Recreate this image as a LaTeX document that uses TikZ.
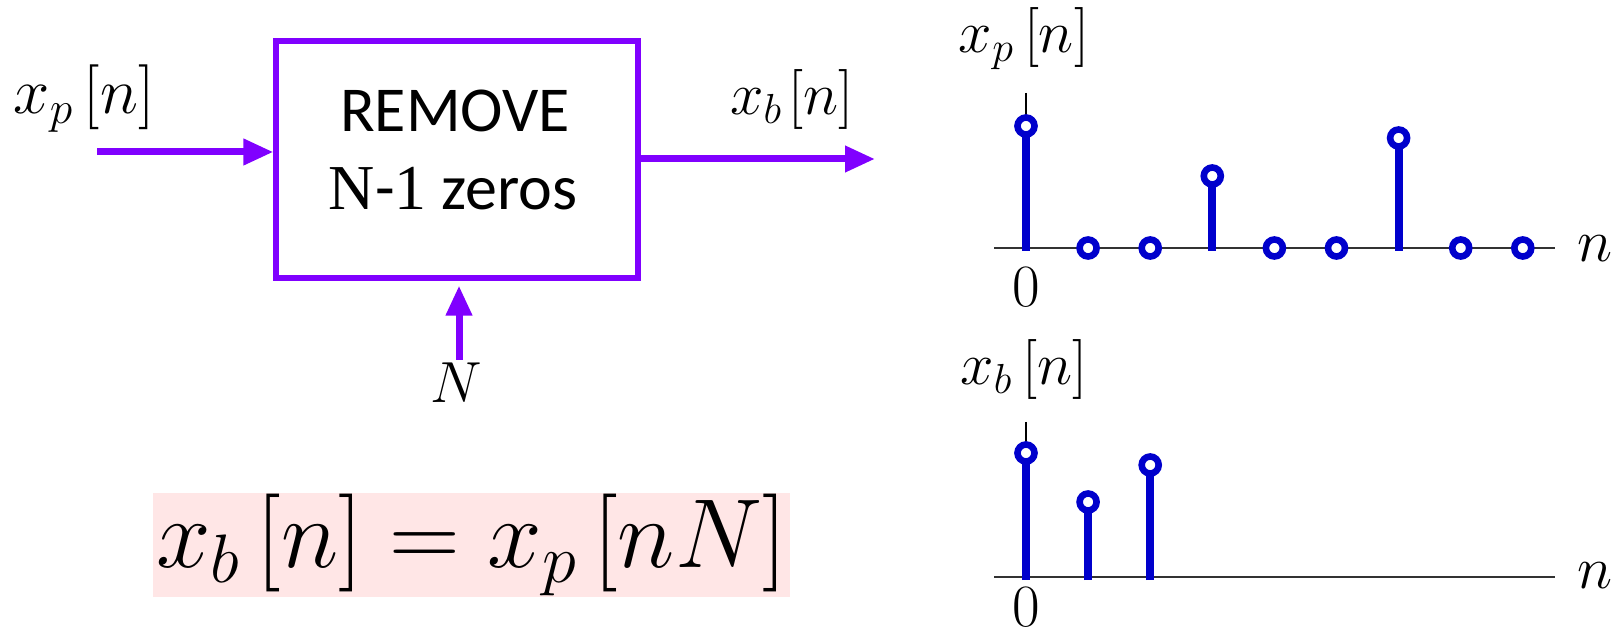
\RequirePackage{fix-cm}
\documentclass[tikz,border=0pt]{standalone}
\usepackage{fontspec}
\newfontfamily\carlito{Carlito}
\newfontfamily\tnr{Liberation Serif}
\usetikzlibrary{arrows.meta}
\definecolor{vio}{RGB}{128,0,255}
\definecolor{stemblue}{RGB}{0,0,204}
\definecolor{pinkbg}{RGB}{255,230,230}
\definecolor{axisgrey}{RGB}{50,50,50}
\newcommand{\fs}[1]{\fontsize{#1}{1.2\dimexpr#1pt\relax}\selectfont}
\begin{document}
\begin{tikzpicture}[x=0.5pt,y=-0.5pt,
  flow/.style={vio, line width=3.5pt, -{Triangle[length=15pt,width=12.5pt]}},
  blockbox/.style={draw=vio, line width=2.6pt, inner sep=0pt},
  lbl/.style={inner sep=0pt, anchor=base},
  axisline/.style={axisgrey, line width=0.8pt},
  tickline/.style={black, line width=0.7pt},
  stemline/.style={stemblue, line width=4pt},
  ring/.style={draw=stemblue, line width=3.3pt, fill=white}]
\useasboundingbox (0,0) rectangle (1613,636);

% ---------- block diagram ----------
\node (box) [blockbox, minimum width=181pt, minimum height=118.5pt] at (457,159.5) {};
\node (t1) [inner sep=0pt, font=\carlito\fs{32}] at (455,111) {REMOVE};
\node (t2) [inner sep=0pt, font=\carlito\fs{32}] at (453,189) {{\tnr N}-{\tnr 1} zeros};

\coordinate (in) at (97,152);
\coordinate (out) at (875,159);
\coordinate (nb) at (459,360);
\draw[flow] (in) -- (in -| box.west);
\draw[flow] (box.east |- out) -- (out);
\draw[flow, shorten >=2.5pt] (nb) -- (nb |- box.south);

\node (lxp) [lbl, font=\fs{32.5}] at (84,114) {$x_p\,[n]$};
\node (lxb) [lbl, font=\fs{30}] at (792,115) {$x_b\mkern2mu[n]$};
\node (lN) [lbl, font=\fs{29}] at (456,402) {$N$};

% ---------- equation ----------
\node (eq) [fill=pinkbg, inner sep=0pt, minimum width=318.5pt, minimum height=52pt,
  font=\fs{49}] at (471.5,545) {$x_b\,[n]=x_p\,[nN]$};

% ---------- top stem plot ----------
\draw[axisline] (994,248) -- (1555,248);
\draw[tickline] (1026,93) -- (1026,126);
\foreach \i/\h in {0/126,3/176,6/138}{
  \draw[stemline] (1026+62.1*\i,251) -- (1026+62.1*\i,\h);
  \draw[ring] (1026+62.1*\i,\h) circle[radius=8.5];
}
\foreach \i in {1,2,4,5,7,8}{
  \draw[ring] (1026+62.1*\i,248) circle[radius=8.5];
}
\node (txp) [lbl, font=\fs{30}] at (1024,53) {$x_p\,[n]$};
\node (t0a) [lbl, font=\fs{30}] at (1026,307) {$0$};
\node (tna) [lbl, font=\fs{30}] at (1595,262) {$n$};

% ---------- bottom stem plot ----------
\draw[axisline] (994,577) -- (1555,577);
\draw[tickline] (1026,422) -- (1026,453);
\foreach \i/\h in {0/453,1/502,2/465}{
  \draw[stemline] (1026+62.1*\i,580) -- (1026+62.1*\i,\h);
  \draw[ring] (1026+62.1*\i,\h) circle[radius=8.5];
}
\node (txb) [lbl, font=\fs{30}] at (1024,385) {$x_b\,[n]$};
\node (t0b) [lbl, font=\fs{30}] at (1026,626) {$0$};
\node (tnb) [lbl, font=\fs{30}] at (1595,588) {$n$};
\end{tikzpicture}
\end{document}
